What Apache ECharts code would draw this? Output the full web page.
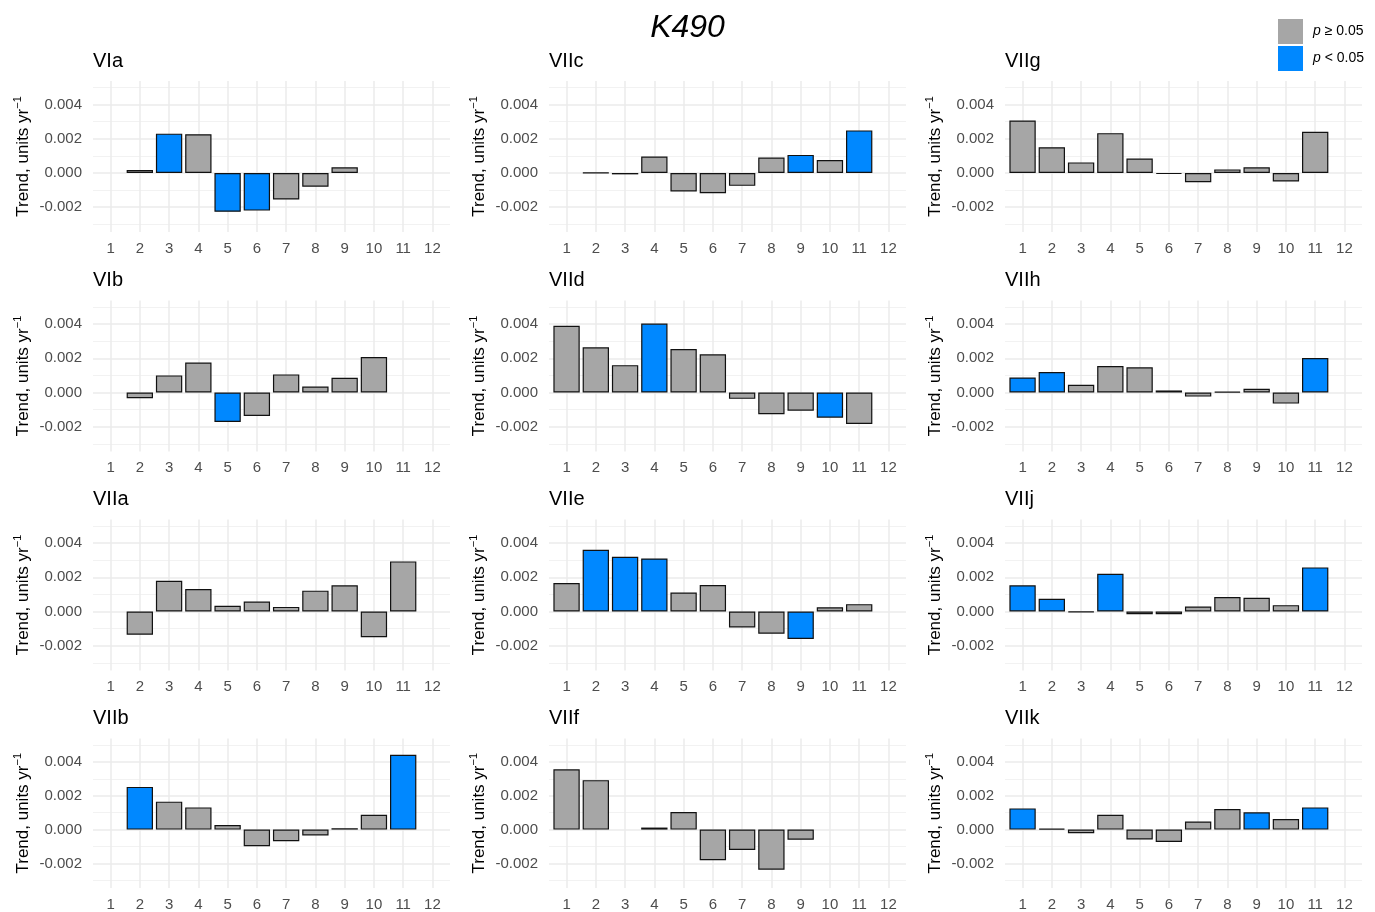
<!DOCTYPE html>
<html>
<head>
<meta charset="utf-8">
<title>K490 monthly trends</title>
<script src="https://cdn.jsdelivr.net/npm/echarts@6/dist/echarts.min.js"></script>
<style>
  html, body { margin: 0; padding: 0; background: #ffffff; }
  #chart { width: 1375px; height: 912px; }
</style>
</head>
<body>
<div id="chart"></div>
<script>
// ---- data -------------------------------------------------------------
const months = [1, 2, 3, 4, 5, 6, 7, 8, 9, 10, 11, 12];
const monthLabels = ['1', '2', '3', '4', '5', '6', '7', '8', '9', '10', '11', '12'];
const yTickValues = [-0.002, 0, 0.002, 0.004];
const yGridMajor = [-0.002, 0, 0.002, 0.004];
const yGridMinor = [-0.003, -0.001, 0.001, 0.003, 0.005];

const regionNames = ['VIa', 'VIIc', 'VIIg', 'VIb', 'VIId', 'VIIh', 'VIIa', 'VIIe', 'VIIj', 'VIIb', 'VIIf', 'VIIk'];

// trend per month (units / yr); null = no estimate
const trendVIa  = [null, 0.00017, 0.0023, 0.00227, -0.00227, -0.0022, -0.00155, -0.0008, 0.00033, null, null, null];
const trendVIIc = [null, 0.00002, -0.00008, 0.00096, -0.00108, -0.00118, -0.00075, 0.0009, 0.00106, 0.00076, 0.00249, null];
const trendVIIg = [0.00307, 0.00151, 0.00062, 0.00233, 0.00085, -0.00006, -0.00054, 0.00021, 0.00033, -0.0005, 0.00241, null];
const trendVIb  = [null, -0.00033, 0.001, 0.00175, -0.00172, -0.00137, 0.00106, 0.00035, 0.00086, 0.00208, null, null];
const trendVIId = [0.0039, 0.00264, 0.0016, 0.00403, 0.00254, 0.00223, -0.00037, -0.00127, -0.00106, -0.00147, -0.00184, null];
const trendVIIh = [0.00088, 0.0012, 0.00045, 0.00155, 0.00147, 0.00012, -0.00024, 0.00005, 0.00022, -0.00065, 0.00202, null];
const trendVIIa = [null, -0.00136, 0.0018, 0.00132, 0.00033, 0.00058, 0.00027, 0.00122, 0.00153, -0.0015, 0.00293, null];
const trendVIIe = [0.00167, 0.00361, 0.0032, 0.0031, 0.00111, 0.00155, -0.00093, -0.0013, -0.00161, 0.00025, 0.00043, null];
const trendVIIj = [0.00153, 0.00074, -0.00004, 0.00221, -0.00016, -0.00016, 0.00029, 0.00085, 0.0008, 0.00037, 0.00258, null];
const trendVIIb = [null, 0.00252, 0.00165, 0.00131, 0.00027, -0.00098, -0.00069, -0.00035, 0.00008, 0.00088, 0.00442, null];
const trendVIIf = [0.00356, 0.00292, null, 0.00012, 0.00104, -0.00181, -0.00121, -0.00237, -0.0006, null, null, null];
const trendVIIk = [0.00125, 0.00006, -0.00021, 0.00087, -0.00058, -0.00073, 0.00048, 0.00121, 0.00102, 0.00062, 0.00131, null];

// months whose trend is significant (p < 0.05)
const signifVIa  = [3, 5, 6];
const signifVIIc = [9, 11];
const signifVIIg = [];
const signifVIb  = [5];
const signifVIId = [4, 10];
const signifVIIh = [1, 2, 11];
const signifVIIa = [];
const signifVIIe = [2, 3, 4, 9];
const signifVIIj = [1, 2, 4, 11];
const signifVIIb = [2, 11];
const signifVIIf = [];
const signifVIIk = [1, 9, 11];

const legendNames = ['p \u2265 0.05', 'p < 0.05'];

// ---- layout & style ----------------------------------------------------
const trends = [trendVIa, trendVIIc, trendVIIg, trendVIb, trendVIId, trendVIIh,
                trendVIIa, trendVIIe, trendVIIj, trendVIIb, trendVIIf, trendVIIk];
const signifs = [signifVIa, signifVIIc, signifVIIg, signifVIb, signifVIId, signifVIIh,
                 signifVIIa, signifVIIe, signifVIIj, signifVIIb, signifVIIf, signifVIIk];

const colLefts = [93, 549, 1005];
const rowTops = [81, 300.5, 519.5, 738.5];
const panelW = 357;
const panelH = 151;
const yMin = -0.00345, yMax = 0.00538;
const xMin = 0.4, xMax = 12.6;

const GREY = '#A6A6A6';
const BLUE = '#0088FF';
const GRID = '#EBEBEB';
const FONT = '"Liberation Sans", Arial, sans-serif';

const grids = [], xAxes = [], yAxes = [], series = [], titles = [];

titles.push({
  text: 'K490',
  left: 'center',
  top: 7,
  textStyle: { fontFamily: FONT, fontSize: 32, fontStyle: 'italic', fontWeight: 'normal', color: '#000' }
});

regionNames.forEach((name, i) => {
  const col = i % 3, row = Math.floor(i / 3);
  const left = colLefts[col], top = rowTops[row];

  grids.push({ left: left, top: top, width: panelW, height: panelH, containLabel: false });

  titles.push({
    text: name,
    left: left,
    top: top - 30,
    padding: 0,
    textStyle: { fontFamily: FONT, fontSize: 20, fontWeight: 'normal', color: '#000' }
  });

  xAxes.push({
    gridIndex: i,
    type: 'value',
    min: xMin,
    max: xMax,
    axisLine: { show: false },
    axisTick: { show: false },
    splitLine: { show: false },
    axisLabel: {
      customValues: months,
      formatter: v => monthLabels[Math.round(v) - 1],
      color: '#4D4D4D',
      fontFamily: FONT,
      fontSize: 15,
      margin: 9
    }
  });

  yAxes.push({
    gridIndex: i,
    type: 'value',
    min: yMin,
    max: yMax,
    axisLine: { show: false },
    axisTick: { show: false },
    splitLine: { show: false },
    axisLabel: {
      customValues: yTickValues,
      formatter: v => v.toFixed(3),
      color: '#4D4D4D',
      fontFamily: FONT,
      fontSize: 15,
      margin: 11
    },
    name: '{base|Trend, units yr}{sup|\u22121}',
    nameLocation: 'middle',
    nameGap: 59,
    nameTextStyle: {
      fontFamily: FONT,
      rich: {
        base: { fontFamily: FONT, fontSize: 17, lineHeight: 22, color: '#000' },
        sup: { fontFamily: FONT, fontSize: 11, lineHeight: 11, verticalAlign: 'top', color: '#000' }
      }
    }
  });

  const sig = signifs[i];
  const vals = trends[i];

  // panel grid: minor and major horizontals, verticals at each month
  const gridLines = [];
  yGridMinor.forEach(v => gridLines.push({ yAxis: v, lineStyle: { color: '#EFEFEF', width: 0.8, type: 'solid' } }));
  yGridMajor.forEach(v => gridLines.push({ yAxis: v, lineStyle: { color: GRID, width: 1.5, type: 'solid' } }));
  months.forEach(m => gridLines.push({ xAxis: m, lineStyle: { color: GRID, width: 1.5, type: 'solid' } }));

  series.push({
    type: 'bar',
    name: name,
    xAxisIndex: i,
    yAxisIndex: i,
    barWidth: '90%',
    z: 3,
    animation: false,
    itemStyle: { borderColor: '#111111', borderWidth: 1.2 },
    data: months.map((m, k) => ({
      value: [m, vals[k]],
      itemStyle: { color: sig.indexOf(m) >= 0 ? BLUE : GREY }
    })),
    markLine: {
      silent: true,
      z: 1,
      precision: 10,
      symbol: ['none', 'none'],
      label: { show: false },
      emphasis: { disabled: true },
      animation: false,
      data: gridLines
    }
  });
});

// legend entries
series.push({ type: 'scatter', name: legendNames[0], xAxisIndex: 0, yAxisIndex: 0, data: [], itemStyle: { color: GREY, opacity: 1 } });
series.push({ type: 'scatter', name: legendNames[1], xAxisIndex: 0, yAxisIndex: 0, data: [], itemStyle: { color: BLUE, opacity: 1 } });

const option = {
  backgroundColor: '#ffffff',
  animation: false,
  title: titles,
  grid: grids,
  xAxis: xAxes,
  yAxis: yAxes,
  legend: {
    orient: 'vertical',
    left: 1278,
    top: 19,
    padding: 0,
    itemWidth: 25,
    itemHeight: 25,
    itemGap: 2,
    icon: 'rect',
    selectedMode: false,
    data: legendNames,
    itemStyle: { opacity: 1 },
    formatter: n => n.replace(/^p/, '{i|p}'),
    textStyle: {
      fontFamily: FONT,
      fontSize: 14,
      color: '#000',
      padding: [0, 0, 0, 5],
      rich: { i: { fontFamily: FONT, fontSize: 14, fontStyle: 'italic', color: '#000' } }
    }
  },
  series: series
};

const chart = echarts.init(document.getElementById('chart'));
chart.setOption(option);
</script>
</body>
</html>
